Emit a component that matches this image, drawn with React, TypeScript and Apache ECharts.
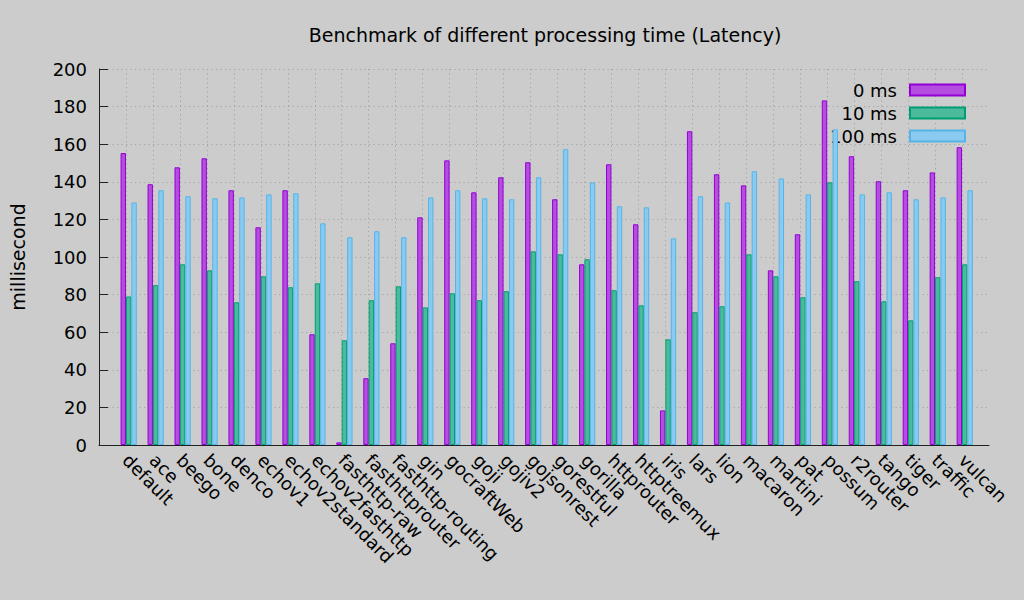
import React, { useEffect, useRef } from "react";
import * as echarts from "echarts";

const categories = [
  "default", "ace", "beego", "bone", "denco", "echov1", "echov2standard", "echov2fasthttp",
  "fasthttp-raw", "fasthttprouter", "fasthttp-routing", "gin", "gocraftWeb", "goji", "gojiv2",
  "gojsonrest", "gorestful", "gorilla", "httprouter", "httptreemux", "iris", "lars", "lion",
  "macaron", "martini", "pat", "possum", "r2router", "tango", "tiger", "traffic", "vulcan",
];

const seriesNames = ["0 ms", "10 ms", "100 ms"];

const ms0 = [
  155.3, 138.7, 147.7, 152.5, 135.5, 115.8, 135.5, 58.9,
  1.4, 35.5, 54.1, 121.1, 151.4, 134.4, 142.4,
  150.4, 130.7, 96.1, 149.3, 117.4, 18.4, 166.9, 144.0,
  138.1, 92.9, 112.1, 183.3, 153.6, 140.3, 135.5, 145.0, 158.4,
];
const ms10 = [
  79.0, 85.0, 96.1, 92.9, 75.9, 89.7, 83.9, 86.0,
  55.7, 77.0, 84.4, 73.2, 80.7, 77.0, 81.8,
  103.0, 101.4, 98.8, 82.3, 74.3, 56.2, 70.6, 73.8,
  101.4, 89.7, 78.6, 139.7, 87.1, 76.4, 66.3, 89.2, 96.1,
];
const ms100 = [
  129.0, 135.5, 132.3, 131.2, 131.7, 133.3, 133.9, 117.9,
  110.5, 113.7, 110.5, 131.7, 135.5, 131.2, 130.7,
  142.4, 157.3, 139.7, 127.0, 126.4, 109.9, 132.3, 129.0,
  145.6, 141.8, 133.3, 167.9, 133.3, 134.4, 130.7, 131.7, 135.5,
];

const yTicks = { min: 0, max: 200, interval: 20 };

const fills = ["rgb(180,77,224)", "rgb(76,187,157)", "rgb(137,203,240)"];
const borders = ["#9400d3", "#009e73", "#56b4e9"];

const FONT = "DejaVu Sans";

export default function App() {
  const ref = useRef<HTMLDivElement>(null);

  useEffect(() => {
    if (!ref.current) return;
    const chart = echarts.init(ref.current, undefined, { renderer: "svg" });
    const allSeries = [ms0, ms10, ms100];
    const gridColors: string[] = [];
    for (let i = -1; i <= categories.length; i++) {
      gridColors.push(i === categories.length || i === -1 ? "rgba(0,0,0,0)" : "#a3a3a3");
    }
    chart.setOption({
      animation: false,
      backgroundColor: "#cccccc",
      textStyle: { fontFamily: FONT },
      title: {
        text: "Benchmark of different processing time (Latency)",
        left: 540,
        textAlign: "center",
        top: 20,
        textStyle: { fontFamily: FONT, fontSize: 19, fontWeight: "normal", color: "#000" },
      },
      legend: {
        orient: "vertical",
        right: 58,
        top: 78.5,
        align: "right",
        icon: "rect",
        itemWidth: 55,
        itemHeight: 11,
        itemGap: 0,
        padding: 0,
        z: 1,
        selectedMode: false,
        data: seriesNames,
        textStyle: {
          fontFamily: FONT,
          fontSize: 18,
          color: "#000",
          lineHeight: 23,
          padding: [0, 8, 0, 0],
        },
      },
      grid: { left: 99, right: 35, top: 69, bottom: 155, containLabel: false },
      xAxis: [
        {
          type: "value",
          min: -1,
          max: categories.length,
          interval: 1,
          axisLine: { show: true, onZero: false, lineStyle: { color: "#222", width: 1 } },
          axisTick: { show: false },
          splitLine: {
            show: true,
            lineStyle: { color: gridColors, type: [1.2, 3.3], width: 1 },
          },
          axisLabel: {
            formatter: (v: number) => categories[v] ?? "",
            rotate: -45,
            margin: 12,
            fontFamily: FONT,
            fontSize: 18,
            color: "#000",
            showMinLabel: true,
            showMaxLabel: true,
          },
        },
        {
          type: "value",
          min: -1.1,
          max: categories.length - 0.1,
          show: false,
        },
      ],
      yAxis: {
        type: "value",
        min: yTicks.min,
        max: yTicks.max,
        interval: yTicks.interval,
        name: "millisecond",
        nameLocation: "middle",
        nameRotate: 90,
        nameGap: 72,
        nameTextStyle: { fontFamily: FONT, fontSize: 19, color: "#000" },
        axisLine: { show: true, onZero: false, lineStyle: { color: "#222", width: 1 } },
        axisTick: { show: true, inside: true, length: 9, lineStyle: { color: "#222" } },
        splitLine: { show: true, lineStyle: { color: "#a3a3a3", type: [1.2, 3.3], width: 1 } },
        axisLabel: { margin: 12, fontFamily: FONT, fontSize: 18, color: "#000" },
      },
      series: allSeries.map((vals, k) => ({
        name: seriesNames[k],
        type: "bar",
        xAxisIndex: 1,
        z: 2,
        barWidth: 5.4,
        barGap: "0%",
        data: vals.map((v, i) => [i, v]),
        itemStyle: { color: fills[k], borderColor: borders[k], borderWidth: 1 },
      })),
    });
    return () => chart.dispose();
  }, []);

  return (
    <div
      ref={ref}
      style={{ position: "fixed", left: 0, top: 0, width: 1024, height: 600 }}
    />
  );
}
